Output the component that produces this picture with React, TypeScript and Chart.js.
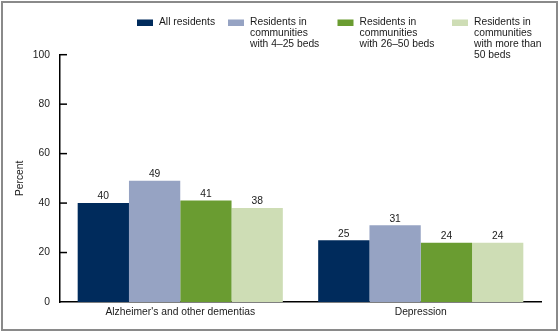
import { useEffect, useRef } from 'react';
import { Chart, registerables } from 'chart.js';

Chart.register(...registerables);

const categories = ["Alzheimer's and other dementias", 'Depression'];
const allResidents = [40, 25];
const beds4to25 = [49, 31];
const beds26to50 = [41, 24];
const bedsOver50 = [38, 24];
const yTickValues = [0, 20, 40, 60, 80, 100];
const seriesNames = [
  ['All residents'],
  ['Residents in', 'communities', 'with 4–25 beds'],
  ['Residents in', 'communities', 'with 26–50 beds'],
  ['Residents in', 'communities', 'with more than', '50 beds'],
];
const seriesColors = ['#002B5C', '#96A3C3', '#6A9C31', '#CEDDB5'];

const FAMILY = "'Liberation Sans', Arial, Helvetica, sans-serif";
const FONT_SIZE = 10.3;
const TEXT_COLOR = '#1a1a1a';
const legendBoxX = [137, 228, 337.5, 452];

const customPlugin = {
  id: 'customDecor',
  beforeDraw(chart: any) {
    const ctx = chart.ctx;
    ctx.save();
    ctx.fillStyle = '#ffffff';
    ctx.fillRect(0, 0, chart.width, chart.height);
    ctx.restore();
  },
  afterDraw(chart: any) {
    const ctx = chart.ctx;
    ctx.save();
    // frame
    ctx.strokeStyle = '#8a8a8a';
    ctx.lineWidth = 2;
    ctx.strokeRect(2, 2, 555, 328);

    // inside tick marks on y axis
    const y = chart.scales.y;
    const left = chart.chartArea.left;
    ctx.strokeStyle = '#000';
    ctx.lineWidth = 1.5;
    y.ticks.forEach((t: any) => {
      const py = y.getPixelForValue(t.value);
      if (t.value === 0) return;
      ctx.beginPath();
      ctx.moveTo(left, py);
      ctx.lineTo(left + 7, py);
      ctx.stroke();
    });

    // data labels
    ctx.font = `${FONT_SIZE}px ${FAMILY}`;
    ctx.fillStyle = TEXT_COLOR;
    ctx.textAlign = 'center';
    ctx.textBaseline = 'middle';
    chart.data.datasets.forEach((ds: any, i: number) => {
      const meta = chart.getDatasetMeta(i);
      meta.data.forEach((el: any, j: number) => {
        ctx.fillText(String(ds.data[j]), el.x, el.y - 6.5);
      });
    });

    // legend
    ctx.textAlign = 'left';
    seriesNames.forEach((lines, i) => {
      const bx = legendBoxX[i];
      ctx.fillStyle = seriesColors[i];
      ctx.fillRect(bx, 19.5, 16, 6.5);
      ctx.fillStyle = TEXT_COLOR;
      lines.forEach((line, k) => {
        ctx.fillText(line, bx + 22, 22.5 + k * 11);
      });
    });
    ctx.restore();
  },
};

export default function App() {
  const ref = useRef<HTMLCanvasElement>(null);
  useEffect(() => {
    if (!ref.current) return;
    const font = { family: FAMILY, size: FONT_SIZE };
    const chart = new Chart(ref.current, {
      type: 'bar',
      data: {
        labels: categories,
        datasets: [allResidents, beds4to25, beds26to50, bedsOver50].map((d, i) => ({
          label: seriesNames[i].join(' '),
          data: d,
          backgroundColor: seriesColors[i],
          borderWidth: 0,
          categoryPercentage: 0.853,
          barPercentage: 1.0,
        })),
      },
      options: {
        responsive: false,
        animation: false,
        devicePixelRatio: 1,
        layout: { padding: { left: 0, right: 19, top: 54.7, bottom: 0 } },
        plugins: { legend: { display: false }, tooltip: { enabled: false } },
        scales: {
          x: {
            grid: { display: false, drawTicks: false },
            border: { display: true, color: '#000', width: 1.5 },
            ticks: { font, color: TEXT_COLOR, padding: 4 },
            afterFit(s: any) { s.height = 31; },
          },
          y: {
            min: 0,
            max: 100,
            grid: { display: false, drawTicks: false },
            border: { display: true, color: '#000', width: 1.5 },
            ticks: { font, color: TEXT_COLOR, padding: 10, stepSize: 20 },
            afterBuildTicks(s: any) { s.ticks = yTickValues.map((v) => ({ value: v })); },
            title: { display: true, text: 'Percent', font, color: TEXT_COLOR, padding: { top: 14, bottom: 0 } },
            afterFit(s: any) { s.width = 60; },
          },
        },
      },
      plugins: [customPlugin],
    } as any);
    return () => chart.destroy();
  }, []);
  return (
    <div style={{ position: 'absolute', left: 0, top: 0, width: 560, height: 333 }}>
      <canvas ref={ref} width={560} height={333} style={{ display: 'block' }} />
    </div>
  );
}
